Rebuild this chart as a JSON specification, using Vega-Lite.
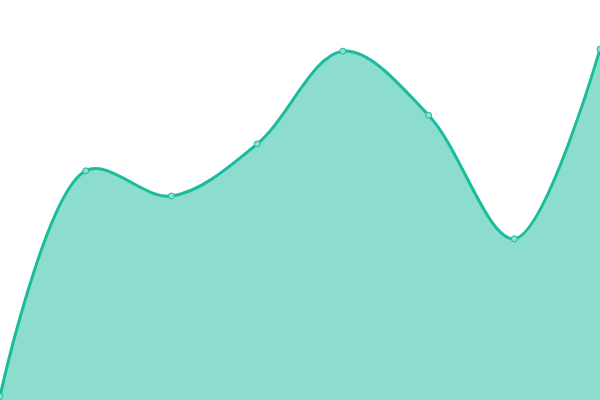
{
  "$schema": "https://vega.github.io/schema/vega-lite/v6.json",
  "width": 600,
  "height": 400,
  "autosize": {"type": "none"},
  "padding": 0,
  "background": "white",
  "config": {"view": {"stroke": null}},
  "data": {"values": [
    {"x": 0, "y": 0.9},
    {"x": 1, "y": 57.3},
    {"x": 2, "y": 51},
    {"x": 3, "y": 64},
    {"x": 4, "y": 87.2},
    {"x": 5, "y": 71.2},
    {"x": 6, "y": 40.3},
    {"x": 7, "y": 87.7}
  ]},
  "encoding": {
    "x": {"field": "x", "type": "quantitative", "scale": {"domain": [0, 7], "nice": false, "zero": false}, "axis": null},
    "y": {"field": "y", "type": "quantitative", "scale": {"domain": [0, 100], "nice": false}, "axis": null}
  },
  "layer": [
    {"mark": {"type": "area", "interpolate": "catmull-rom", "color": "#1abc9c", "opacity": 0.5}},
    {"mark": {"type": "line", "interpolate": "catmull-rom", "color": "#1abc9c", "strokeWidth": 3}},
    {"mark": {"type": "point", "filled": true, "fill": "#8ddece", "stroke": "#1abc9c", "strokeWidth": 1, "size": 36, "opacity": 1}}
  ]
}
